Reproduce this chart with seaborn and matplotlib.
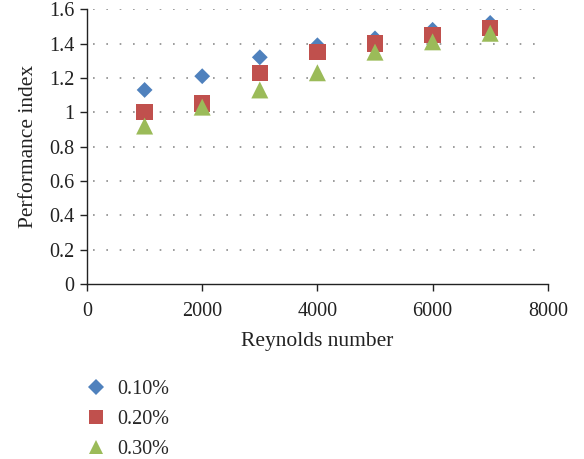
import matplotlib
matplotlib.use("Agg")
import matplotlib.pyplot as plt
import seaborn as sns
import pandas as pd
from matplotlib.lines import Line2D

reynolds = [1000, 2000, 3000, 4000, 5000, 6000, 7000]
series_labels = ["0.10%", "0.20%", "0.30%"]
perf_010 = [1.13, 1.21, 1.32, 1.39, 1.43, 1.48, 1.52]
perf_020 = [1.00, 1.05, 1.23, 1.35, 1.40, 1.45, 1.49]
perf_030 = [0.92, 1.03, 1.13, 1.23, 1.35, 1.41, 1.46]

colors = ["#4F81BD", "#C0504D", "#9BBB59"]
markers = ["D", "s", "^"]
sizes = [65, 140, 150]

sns.set_style("white")
plt.rcParams["font.family"] = ["Liberation Serif", "DejaVu Serif"]

fig = plt.figure(figsize=(5.84, 4.59), dpi=100)
ax = fig.add_axes([0.149, 0.381, 0.789, 0.599])

values = [perf_010, perf_020, perf_030]
for lab, vals, c, m, s in zip(series_labels, values, colors, markers, sizes):
    df = pd.DataFrame({"Reynolds number": reynolds, "Performance index": vals})
    sns.scatterplot(data=df, x="Reynolds number", y="Performance index", ax=ax,
                    color=c, marker=m, s=s, edgecolor="none", linewidth=0,
                    zorder=3, clip_on=False)

ax.set_xlim(0, 8000)
ax.set_ylim(0, 1.6)
ax.set_xticks([0, 2000, 4000, 6000, 8000])
ax.set_yticks([0, 0.2, 0.4, 0.6, 0.8, 1.0, 1.2, 1.4, 1.6])
ax.set_yticklabels(["0", "0.2", "0.4", "0.6", "0.8", "1", "1.2", "1.4", "1.6"])

for y in [0.2, 0.4, 0.6, 0.8, 1.0, 1.2, 1.4, 1.6]:
    ax.axhline(y, xmin=0.012, xmax=0.995, color="#8c8c8c",
               linestyle=(0, (1, 7)), linewidth=1.2, zorder=1)

for side in ["top", "right"]:
    ax.spines[side].set_visible(False)
for side in ["left", "bottom"]:
    ax.spines[side].set_color("#222222")
    ax.spines[side].set_linewidth(1.0)

ax.tick_params(axis="both", which="major", direction="out", length=5,
               width=1.0, color="#222222", labelsize=14.5, labelcolor="#222222",
               left=True, bottom=True)
ax.tick_params(axis="x", pad=8)
ax.tick_params(axis="y", pad=4)

ax.set_xlabel("Reynolds number", fontsize=15.5, color="#222222", labelpad=8)
ax.set_ylabel("Performance index", fontsize=15.5, color="#222222", labelpad=8)

handles = [Line2D([], [], linestyle="none", marker=m, color=c, markersize=ms,
                  markeredgewidth=0)
           for m, c, ms in zip(markers, colors, [8, 10.5, 10.5])]
fig.legend(handles, series_labels, loc="upper left", bbox_to_anchor=(0.133, 0.19),
           frameon=False, fontsize=14.5, labelspacing=0.55, handletextpad=0.55,
           handlelength=1.0, borderaxespad=0)

fig.savefig("out.png", dpi=100)
